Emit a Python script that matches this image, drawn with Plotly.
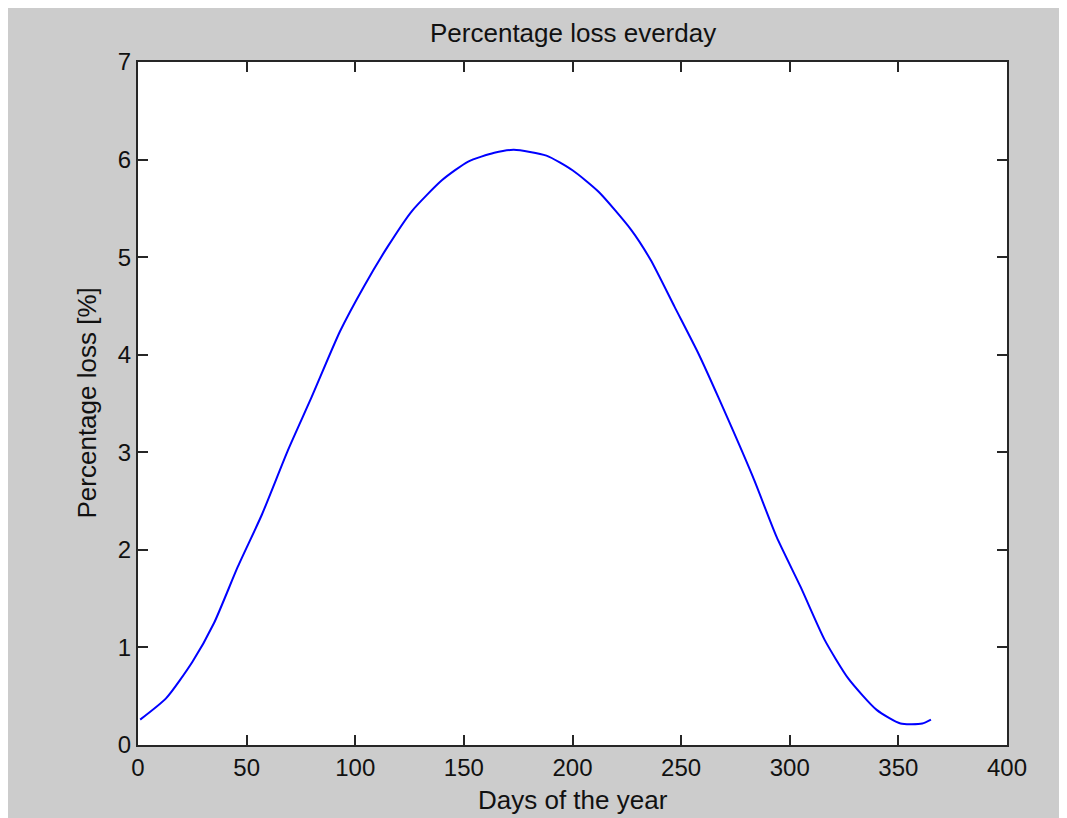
import plotly.graph_objects as go

# Values
days = [1, 13, 25, 35, 46, 57, 69, 80, 93, 104, 115, 126, 140, 152, 164, 173,
        188, 200, 212, 227, 236, 247, 258, 267, 283, 294, 305, 316, 327, 340, 351, 361, 365]
loss = [0.26, 0.48, 0.85, 1.25, 1.83, 2.36, 3.02, 3.57, 4.24, 4.70, 5.11, 5.47, 5.79, 5.98, 6.07, 6.10,
        6.04, 5.89, 5.67, 5.28, 4.97, 4.49, 4.01, 3.57, 2.75, 2.13, 1.62, 1.08, 0.68, 0.36, 0.22, 0.22, 0.26]

x_ticks = [0, 50, 100, 150, 200, 250, 300, 350, 400]
y_ticks = [0, 1, 2, 3, 4, 5, 6, 7]

title_text = "Percentage loss everday"
x_label = "Days of the year"
y_label = "Percentage loss [%]"

W, H = 1059, 810
L, R, T, B = 130, 60, 54, 73
FONT = "Liberation Sans, Arial, sans-serif"
AXC = "#262626"
TXT = "#111111"

fig = go.Figure()
fig.add_trace(go.Scatter(x=days, y=loss, mode="lines",
                         line=dict(color="#0000ff", width=2, shape="spline", smoothing=0.6),
                         hoverinfo="x+y", showlegend=False))

axis_common = dict(
    showgrid=False, zeroline=False, showline=True, linecolor=AXC, linewidth=2,
    mirror="allticks", ticks="inside", ticklen=10, tickwidth=2, tickcolor=AXC,
    tickfont=dict(family=FONT, size=24, color=TXT),
)
fig.update_xaxes(range=[0, 400], tickvals=x_ticks, ticktext=[str(v) for v in x_ticks], **axis_common)
fig.update_yaxes(range=[0, 7], tickvals=y_ticks, ticktext=[str(v) for v in y_ticks], **axis_common)

ph = H - T - B
pw = W - L - R
bottom = H - B
fig.add_annotation(text=title_text, xref="paper", yref="paper", x=0.5, y=(bottom - 25) / ph,
                   showarrow=False, xanchor="center", yanchor="middle",
                   font=dict(family=FONT, size=26, color=TXT))
fig.add_annotation(text=x_label, xref="paper", yref="paper", x=0.5, y=(bottom - 792) / ph,
                   showarrow=False, xanchor="center", yanchor="middle",
                   font=dict(family=FONT, size=26, color=TXT))
fig.add_annotation(text=y_label, xref="paper", yref="paper", x=(78 - L) / pw, y=0.5,
                   showarrow=False, xanchor="center", yanchor="middle", textangle=-90,
                   font=dict(family=FONT, size=26, color=TXT))

fig.update_layout(
    width=W, height=H,
    margin=dict(l=L, r=R, t=T, b=B, autoexpand=False),
    paper_bgcolor="#cccccc", plot_bgcolor="white",
    font=dict(family=FONT),
)

fig.write_html("out.html")
